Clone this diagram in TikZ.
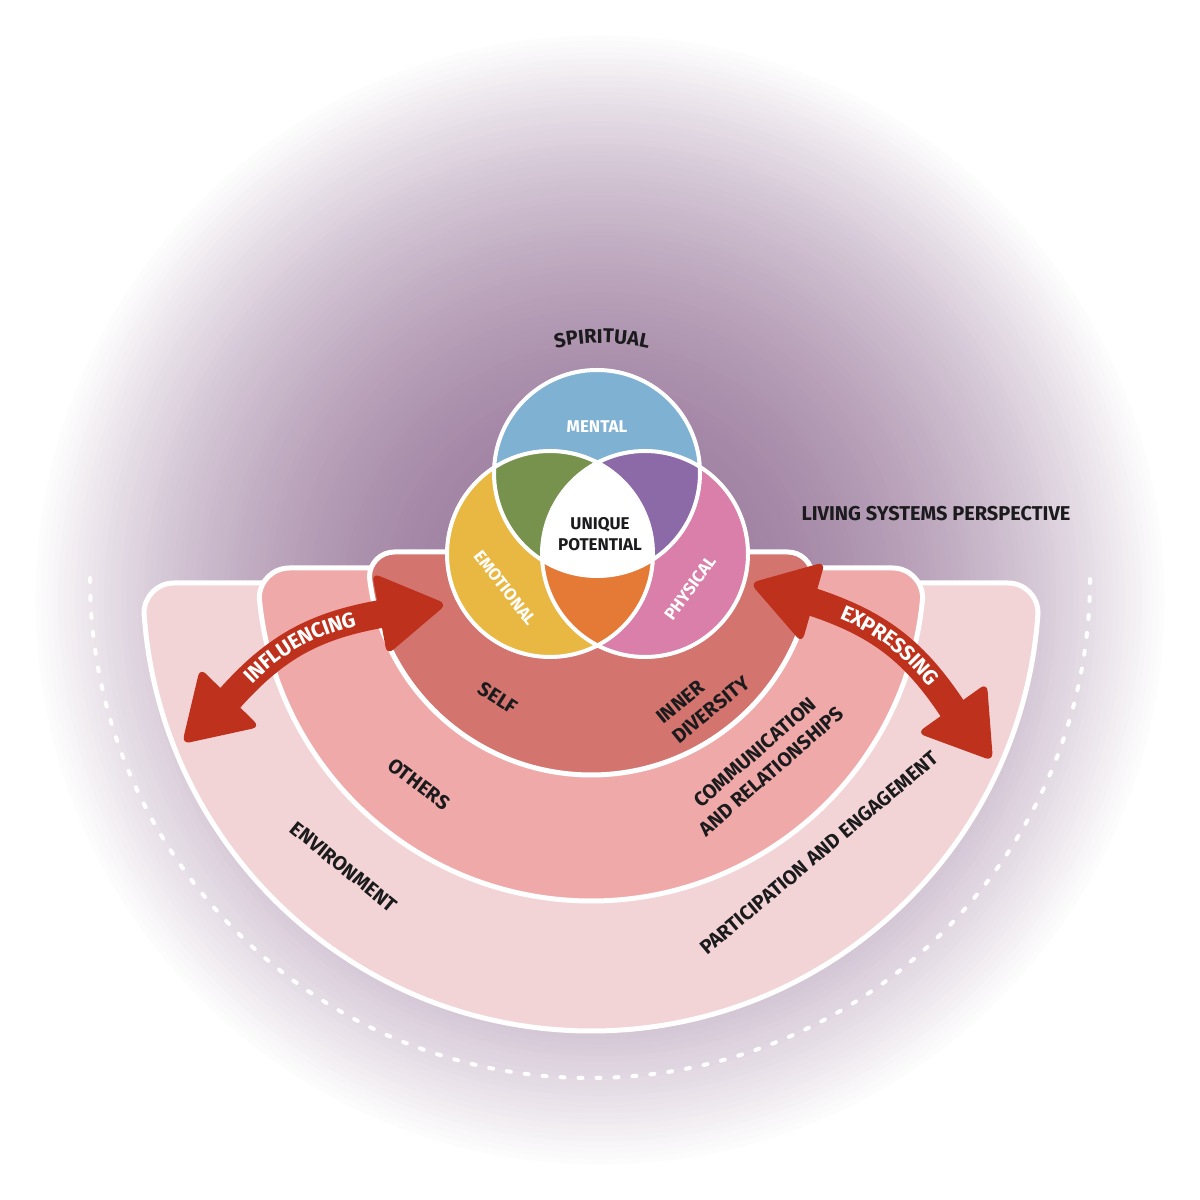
\documentclass[tikz,border=0pt]{standalone}
\usepackage{fontspec}
\setmainfont{Fira Sans}
\usepackage{tikz}
\usetikzlibrary{positioning,decorations.text,calc}

\definecolor{glowpurple}{HTML}{99789B}
\definecolor{envpink}{HTML}{F3D4D6}
\definecolor{otherspink}{HTML}{EFA9A9}
\definecolor{selfred}{HTML}{D3746F}
\definecolor{arrowred}{HTML}{BE321D}
\definecolor{mentalblue}{HTML}{7FB1D3}
\definecolor{emoyellow}{HTML}{E8B842}
\definecolor{phypink}{HTML}{D97FA9}
\definecolor{venngreen}{HTML}{77924C}
\definecolor{vennpurple}{HTML}{8C6AA8}
\definecolor{vennorange}{HTML}{E57A36}
\definecolor{labelblack}{HTML}{1B1A1C}

\begin{document}
\begin{tikzpicture}[x=1pt,y=1pt,
    ring/.style={draw=white, line width=5pt},
    venn/.style={draw=white, line width=4pt},
    lbl/.style={font=\bfseries\fontsize{20}{25}\selectfont, text=labelblack},
    vennlbl/.style={font=\bfseries\fontsize{17}{21}\selectfont, text=white},
    shaft/.style={draw=arrowred, line width=28pt, shorten <=-10pt, shorten >=-10pt},
    head/.style={fill=arrowred, rounded corners=8pt}]

  \useasboundingbox (0,0) rectangle (1200,1200);

  % Background glow
  \fill[white] (0,0) rectangle (1200,1200);
  \foreach \i in {0,...,99} {
    \pgfmathsetmacro{\rad}{570*(1-\i/100)}
    \pgfmathsetmacro{\pct}{100*(1-(1-\i/100)^2)}
    \fill[glowpurple!\pct!white] (600,600) circle (\rad);
  }

  % Dotted half circle
  \draw[white, line width=4pt, line cap=round, dash pattern=on 4pt off 14pt]
    (90,622) arc[start angle=180, end angle=360, radius=500];

  % Rings
  \filldraw[ring, fill=envpink] (1038,587) arc[start angle=-3.84, end angle=-176.16, radius=448]
    to[out=90, in=180] (174,617) -- (1008,617) to[out=0, in=90] (1038,587) -- cycle;
  \filldraw[ring, fill=otherspink] (922.6,602) arc[start angle=-5.17, end angle=-174.83, radius=333]
    to[out=90, in=180] (289.4,632) -- (892.6,632) to[out=0, in=90] (922.6,602) -- cycle;
  \filldraw[ring, fill=selfred] (812.6,623) arc[start angle=-6.44, end angle=-173.56, radius=223]
    to[out=90, in=180] (394.4,648) -- (787.6,648) to[out=0, in=90] (812.6,623) -- cycle;

  % Arrows
  \coordinate (inflA) at (230,502);
  \coordinate (inflB) at (380,586);
  \coordinate (exprA) at (813,598);
  \coordinate (exprB) at (952,492);

  \draw[shaft] (inflA) to[bend left=20] (inflB);
  \fill[head] (182,456) -- (200,532) -- (260,473) -- cycle;
  \fill[head] (447,596) -- (372,627) -- (387,545) -- cycle;
  \path[decorate, decoration={text along path, text align=center, raise=-7pt,
      text={|\bfseries\fontsize{21}{25}\selectfont\color{white}|INFLUENCING}}]
    (inflA) to[bend left=20] (inflB);

  \draw[shaft] (exprA) to[bend left=20] (exprB);
  \fill[head] (750,617) -- (825,638) -- (802,557) -- cycle;
  \fill[head] (993,439) -- (987,517) -- (917,467) -- cycle;
  \path[decorate, decoration={text along path, text align=center, raise=-7pt,
      text={|\bfseries\fontsize{21}{25}\selectfont\color{white}|EXPRESSING}}]
    (exprA) to[bend left=20] (exprB);

  % Venn circles
  \coordinate (mentalc) at (597,727);
  \coordinate (emoc) at (550,646);
  \coordinate (phyc) at (645,646);

  \fill[mentalblue] (mentalc) circle (103);
  \fill[emoyellow] (emoc) circle (103);
  \fill[phypink] (phyc) circle (103);
  \begin{scope}
    \clip (mentalc) circle (103);
    \fill[venngreen] (emoc) circle (103);
    \fill[vennpurple] (phyc) circle (103);
  \end{scope}
  \begin{scope}
    \clip (emoc) circle (103);
    \fill[vennorange] (phyc) circle (103);
  \end{scope}
  \begin{scope}
    \clip (mentalc) circle (103);
    \clip (emoc) circle (103);
    \fill[white] (phyc) circle (103);
  \end{scope}
  \draw[venn] (mentalc) circle (103) (emoc) circle (103) (phyc) circle (103);

  % Labels
  \path[decorate, decoration={text along path, text align=center,
      text={|\bfseries\fontsize{20}{24}\selectfont\color{labelblack}|SPIRITUAL}}]
    (602,650) ++(110:207) arc[start angle=110, end angle=70, radius=207];
  \node[lbl] (living) at (936,686) {LIVING SYSTEMS PERSPECTIVE};
  \node[vennlbl] (mental) at (597,773) {MENTAL};
  \node[vennlbl, text=labelblack, align=center] (unique) at (600,666) {UNIQUE\\POTENTIAL};
  \node[vennlbl, rotate=-52] (emotional) at (505,612) {EMOTIONAL};
  \node[vennlbl, rotate=54] (physical) at (690,612) {PHYSICAL};
  \node[lbl, rotate=-33] (self) at (498,502) {SELF};
  \node[lbl, rotate=39, align=left] (inner) at (703,500) {INNER\\DIVERSITY};
  \node[lbl, rotate=-37] (others) at (419,416) {OTHERS};
  \node[lbl, rotate=41, align=center] (comm) at (763,438) {COMMUNICATION\\AND RELATIONSHIPS};
  \node[lbl, rotate=-39] (environment) at (344,333) {ENVIRONMENT};
  \node[lbl, rotate=40] (participation) at (819,347) {PARTICIPATION AND ENGAGEMENT};
\end{tikzpicture}
\end{document}
